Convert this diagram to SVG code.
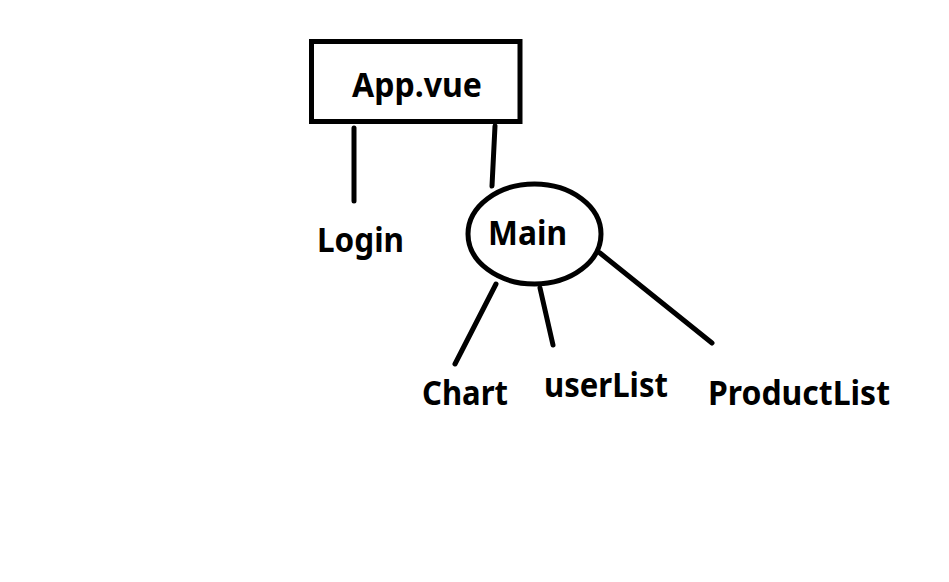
<svg xmlns="http://www.w3.org/2000/svg" width="949" height="582" viewBox="0 0 949 582">
<style>
.shape{fill:none;stroke:#000;stroke-width:5}
.conn line{stroke:#000;stroke-width:5;stroke-linecap:round}
text{font-family:"Noto Sans","Open Sans","Liberation Sans",sans-serif;font-weight:bold;font-size:34.5px;fill:#000}
</style>
<rect width="949" height="582" fill="#fff"/>
<g id="connectors" class="conn">
<line x1="354" y1="128" x2="354" y2="201"/>
<line x1="495" y1="126" x2="492" y2="186"/>
<line x1="496" y1="284" x2="455" y2="364"/>
<line x1="540" y1="288" x2="553" y2="345"/>
<line x1="600" y1="253" x2="712" y2="343"/>
</g>
<g id="app">
<rect class="shape" x="311.5" y="41.5" width="208.5" height="80"/>
<text x="352" y="97" textLength="130" lengthAdjust="spacingAndGlyphs">App.vue</text>
</g>
<g id="login">
<text x="317" y="252" textLength="87" lengthAdjust="spacingAndGlyphs">Login</text>
</g>
<g id="main">
<ellipse class="shape" cx="534.5" cy="234" rx="66.5" ry="50" stroke-width="4.5"/>
<text x="488" y="245" textLength="79" lengthAdjust="spacingAndGlyphs">Main</text>
</g>
<g id="chart">
<text x="422" y="405" textLength="86" lengthAdjust="spacingAndGlyphs">Chart</text>
</g>
<g id="userList">
<text x="544" y="397" textLength="124" lengthAdjust="spacingAndGlyphs">userList</text>
</g>
<g id="productList">
<text x="708" y="405" textLength="182" lengthAdjust="spacingAndGlyphs">ProductList</text>
</g>
</svg>
